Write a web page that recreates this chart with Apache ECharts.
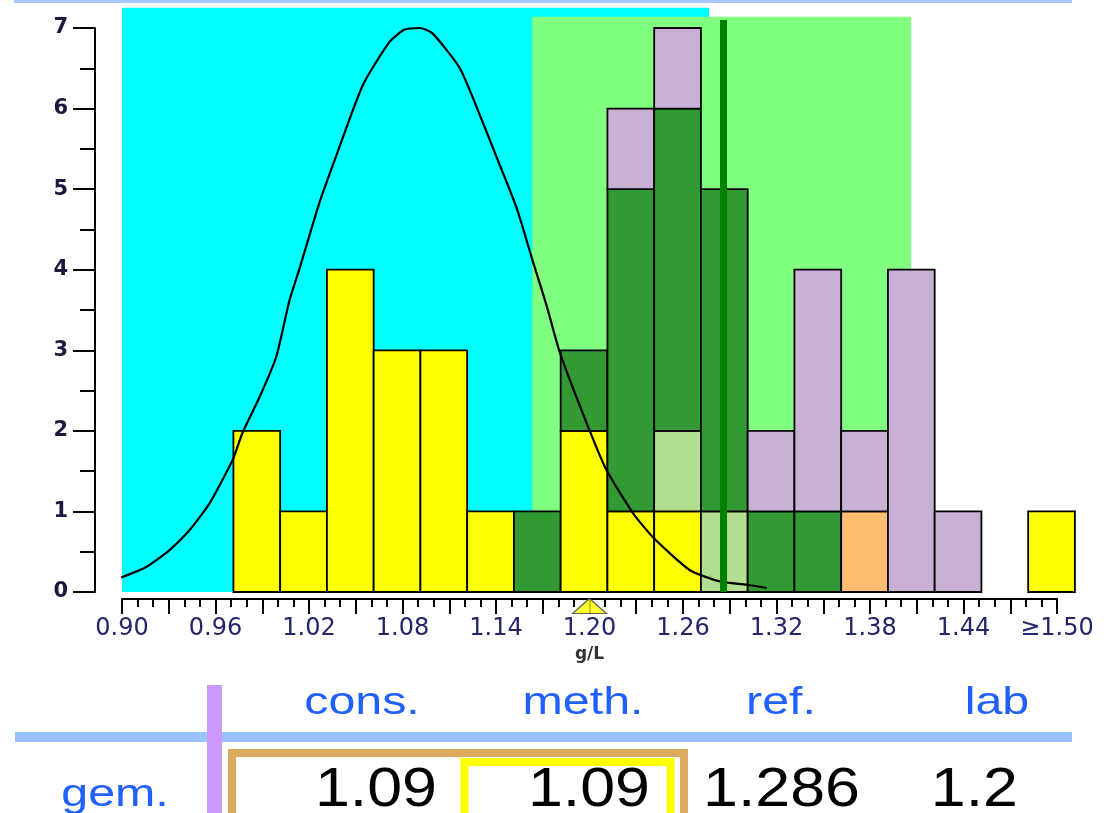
<!DOCTYPE html>
<html><head><meta charset="utf-8">
<script src="https://cdn.jsdelivr.net/npm/echarts@6/dist/echarts.min.js"></script>
<style>html,body{margin:0;padding:0;background:#fff;}#c{width:1115px;height:813px;}</style>
</head><body><div id="c"></div>
<script>
// ---- data ----
const binStart = [0.9715, 1.0015, 1.0315, 1.0615, 1.0915, 1.1215, 1.1515, 1.1815, 1.2115, 1.2415, 1.2715, 1.3015, 1.3315, 1.3615, 1.3915, 1.4215, 1.4515, 1.4815];
const binWidth = 0.03;
const yellowCounts     = [2, 1, 4, 3, 3, 1, 0, 2, 1, 1, 0, 0, 0, 0, 0, 0, 0, 1];
const lightGreenCounts = [0, 0, 0, 0, 0, 0, 0, 0, 0, 1, 1, 0, 0, 0, 0, 0, 0, 0];
const darkGreenCounts  = [0, 0, 0, 0, 0, 0, 1, 1, 4, 4, 4, 1, 1, 0, 0, 0, 0, 0];
const orangeCounts     = [0, 0, 0, 0, 0, 0, 0, 0, 0, 0, 0, 0, 0, 1, 0, 0, 0, 0];
const lilacCounts      = [0, 0, 0, 0, 0, 0, 0, 0, 1, 1, 0, 1, 3, 1, 4, 1, 0, 0];

const curveX = [0.8995, 0.9155, 0.9305, 0.9434, 0.9562, 0.9710, 0.9774, 0.9883, 0.9990, 1.0075, 1.0140, 1.0268, 1.0376, 1.0545, 1.0718, 1.0814, 1.0911, 1.0994, 1.1168, 1.1296, 1.1424, 1.1532, 1.1637, 1.1724, 1.1810, 1.1981, 1.2110, 1.2279, 1.2407, 1.2645, 1.2838, 1.3009, 1.3137];
const curveY = [0.18, 0.31, 0.52, 0.77, 1.10, 1.64, 1.98, 2.42, 2.92, 3.62, 4.02, 4.84, 5.42, 6.29, 6.83, 6.98, 7.00, 6.93, 6.50, 5.92, 5.30, 4.77, 4.10, 3.56, 2.97, 2.10, 1.51, 0.98, 0.68, 0.27, 0.13, 0.09, 0.05];

const consBand = [0.90, 1.2767, 7.25];   // [from, to, top]
const refBand = [1.1633, 1.4064, 7.14];
const refValue = 1.286;
const refLineTop = 7.1;
const labValue = 1.2;

const xTickLabels = ['0.90', '0.96', '1.02', '1.08', '1.14', '1.20', '1.26', '1.32', '1.38', '1.44', '≥1.50'];
const yTickLabels = ['0', '1', '2', '3', '4', '5', '6', '7'];

const tableHeaders = ['cons.', 'meth.', 'ref.', 'lab'];
const tableRowLabel = 'gem.';
const tableValues = ['1.09', '1.09', '1.286', '1.2'];

// ---- build ----
const segColors = ['#ffff00', '#b3de8f', '#339933', '#fdbe72', '#c8b1d5'];
const stacks = [yellowCounts, lightGreenCounts, darkGreenCounts, orangeCounts, lilacCounts];
const barData = [];
binStart.forEach((x0, i) => {
  let base = 0;
  stacks.forEach((arr, c) => {
    const v = arr[i];
    if (v > 0) { barData.push([x0, x0 + binWidth, base, base + v, c]); base += v; }
  });
});
const bandData = [
  [consBand[0], consBand[1], 0, consBand[2], 0],
  [refBand[0], refBand[1], 0, refBand[2], 1]
];
const bandColors = ['#00ffff', '#80ff80'];

function rectItem(api, fill, stroke) {
  const p0 = api.coord([api.value(0), api.value(3)]);
  const p1 = api.coord([api.value(1), api.value(2)]);
  return {
    type: 'rect',
    shape: { x: p0[0], y: p0[1], width: p1[0] - p0[0], height: p1[1] - p0[1] },
    style: stroke ? { fill: fill, stroke: '#000', lineWidth: 1.8 } : { fill: fill }
  };
}

const txtBlue = '#2060ff';
const headerX = [362, 583, 781, 997];
const valueRightX = [437, 650, 860, 1018];

const graphics = [
  { type: 'rect', shape: { x: 14, y: 0, width: 1058, height: 3 }, style: { fill: '#a8c8ff' } },
  { type: 'rect', shape: { x: 15, y: 732, width: 1057, height: 10 }, style: { fill: '#99c2ff' } },
  { type: 'rect', shape: { x: 207, y: 685, width: 15, height: 140 }, style: { fill: '#cc99ff' } },
  { type: 'rect', shape: { x: 232, y: 753, width: 452, height: 120 }, style: { fill: 'none', stroke: '#dcaa5f', lineWidth: 8 } },
  { type: 'rect', shape: { x: 464.5, y: 762, width: 206, height: 120 }, style: { fill: 'none', stroke: '#ffff00', lineWidth: 8 } },
  { type: 'text', x: 115, y: 795, scaleX: 1.24, style: { text: tableRowLabel, x: 0, y: 0, align: 'center', verticalAlign: 'middle', fill: txtBlue, font: '39px "Liberation Sans", Arial, sans-serif' } }
];
tableHeaders.forEach((h, i) => {
  graphics.push({ type: 'text', x: headerX[i], y: 703, scaleX: 1.24, style: { text: h, x: 0, y: 0, align: 'center', verticalAlign: 'middle', fill: txtBlue, font: '39px "Liberation Sans", Arial, sans-serif' } });
});
tableValues.forEach((v, i) => {
  graphics.push({ type: 'text', x: valueRightX[i], y: 791, scaleX: 1.12, style: { text: v, x: 0, y: 0, align: 'right', verticalAlign: 'middle', fill: '#000', font: '56px "Liberation Sans", Arial, sans-serif' } });
});

const chart = echarts.init(document.getElementById('c'), null, { renderer: 'canvas' });
chart.setOption({
  animation: false,
  backgroundColor: '#fff',
  grid: { left: 122, right: 58, top: 28, bottom: 221 },
  xAxis: {
    type: 'value', min: 0.90, max: 1.50, interval: 0.03, offset: 7,
    name: 'g/L', nameLocation: 'middle', nameGap: 44,
    nameTextStyle: { fontFamily: 'DejaVu Sans', fontWeight: 'bold', fontSize: 17, color: '#333' },
    axisLine: { show: true, onZero: false, lineStyle: { color: '#000', width: 2 } },
    axisTick: { show: true, length: 15, lineStyle: { color: '#000', width: 2 } },
    minorTick: { show: true, splitNumber: 3, length: 8, lineStyle: { color: '#000', width: 2 } },
    splitLine: { show: false },
    axisLabel: {
      margin: 18, fontFamily: 'DejaVu Sans', fontSize: 24, color: '#25256a',
      formatter: (v, idx) => (idx % 2 === 0 ? (xTickLabels[idx / 2] || '') : '')
    }
  },
  yAxis: {
    type: 'value', min: 0, max: 7, interval: 1, offset: 27,
    axisLine: { show: true, onZero: false, lineStyle: { color: '#000', width: 2 } },
    axisTick: { show: true, length: 22, lineStyle: { color: '#000', width: 2 } },
    minorTick: { show: true, splitNumber: 2, length: 15, lineStyle: { color: '#000', width: 2 } },
    splitLine: { show: false },
    axisLabel: {
      margin: 27, fontFamily: 'DejaVu Sans', fontWeight: 'bold', fontSize: 21, color: '#1a1a40',
      formatter: (v, idx) => yTickLabels[idx] || ''
    }
  },
  series: [
    {
      type: 'custom', clip: false, z: 1, silent: true,
      encode: { x: [0, 1], y: [2, 3] },
      renderItem: (params, api) => rectItem(api, bandColors[api.value(4)], false),
      data: bandData
    },
    {
      type: 'custom', clip: false, z: 3, silent: true,
      encode: { x: [0, 1], y: [2, 3] },
      renderItem: (params, api) => rectItem(api, segColors[api.value(4)], true),
      data: barData
    },
    {
      type: 'line', z: 4, clip: false, symbol: 'none', smooth: 0.2, silent: true,
      lineStyle: { color: '#000', width: 2.2 },
      data: curveX.map((x, i) => [x, curveY[i]])
    },
    {
      type: 'line', z: 5, clip: false, symbol: 'none', silent: true,
      lineStyle: { color: '#008000', width: 7, cap: 'butt' },
      data: [[refValue, 0], [refValue, refLineTop]]
    },
    {
      type: 'scatter', z: 6, clip: false, silent: true,
      symbol: 'triangle', symbolSize: [34, 15], symbolOffset: [0, 14],
      itemStyle: { color: '#ffff00', borderColor: '#444', borderWidth: 1.2 },
      data: [[labValue, 0]]
    }
  ],
  graphic: graphics
});
</script>
</body></html>
